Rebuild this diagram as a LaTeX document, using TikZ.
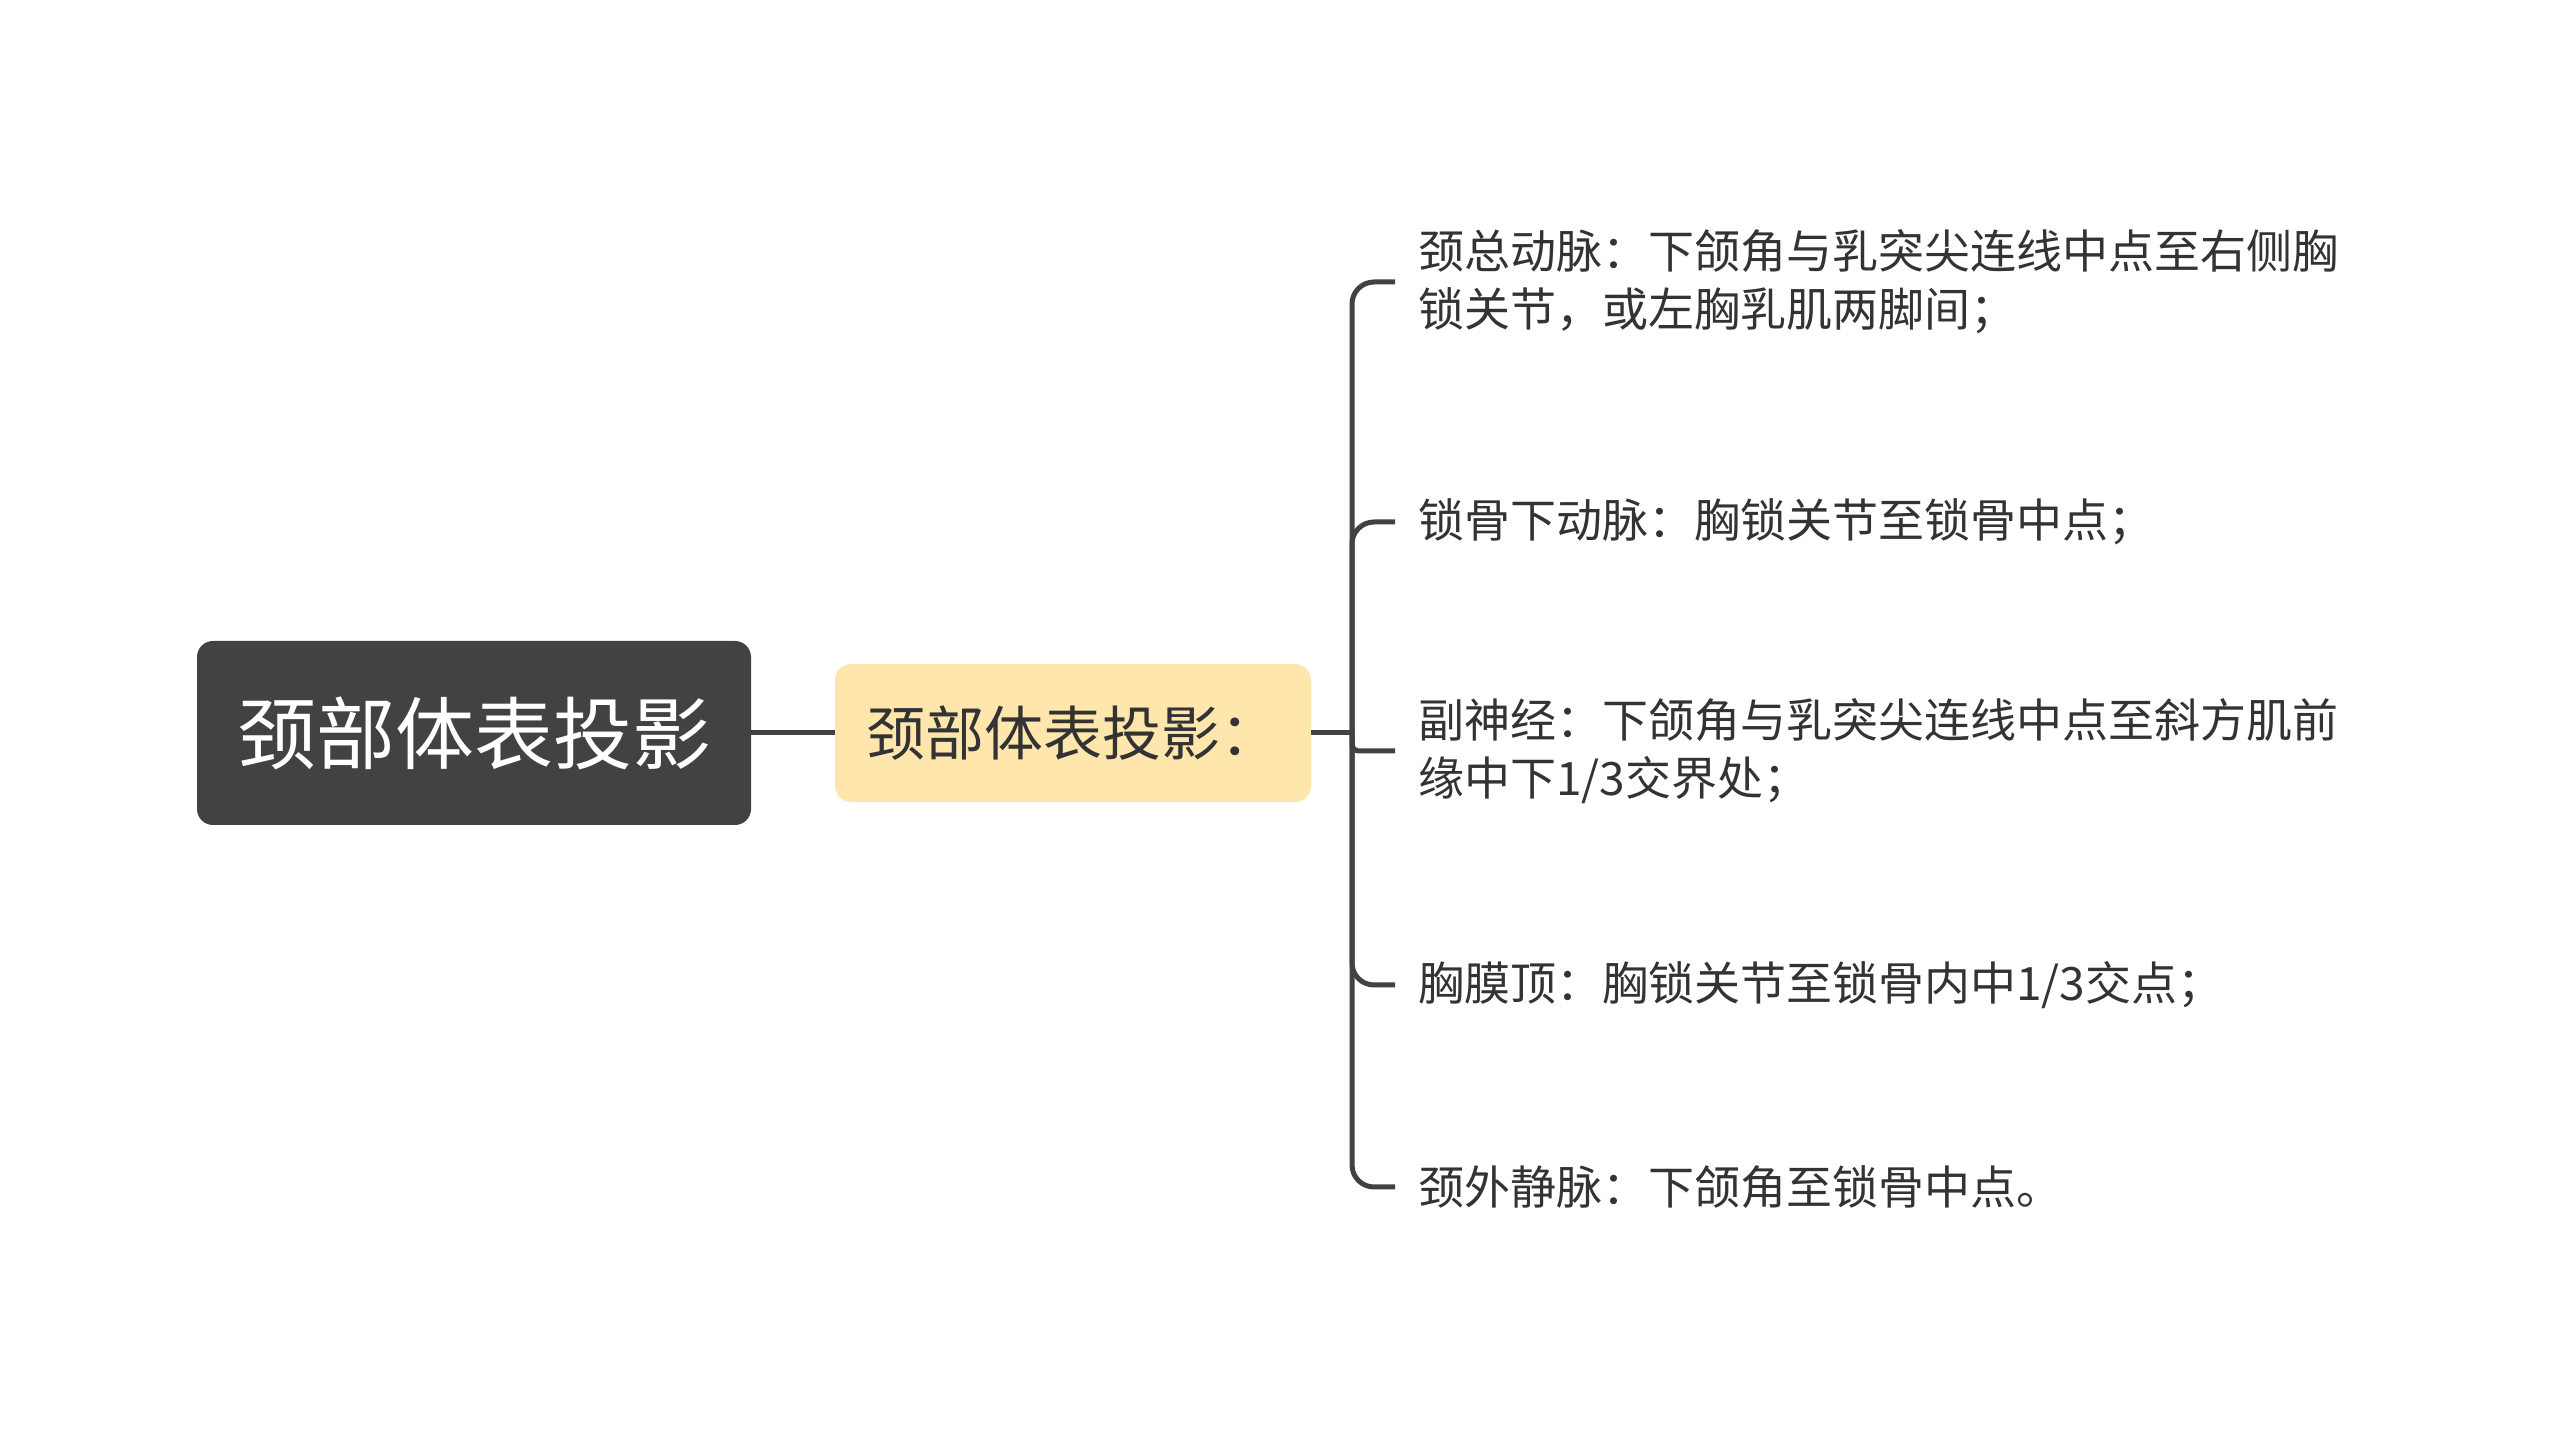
\documentclass[tikz,border=0pt]{standalone}
\usepackage{fontspec}
\setmainfont{Noto Sans CJK SC}
\definecolor{rootgray}{HTML}{424242}
\definecolor{linegray}{HTML}{424242}
\definecolor{midyellow}{HTML}{FEE6AD}
\definecolor{txtgray}{HTML}{333333}
\begin{document}
\begin{tikzpicture}[x=1pt,y=1pt,
  rootbox/.style={fill=rootgray,rounded corners=16pt,minimum width=554pt,minimum height=184pt,
    text=white,font=\fontsize{79}{90}\selectfont,inner sep=0pt},
  midbox/.style={fill=midyellow,rounded corners=16pt,minimum width=476pt,minimum height=138pt,
    text=txtgray,font=\fontsize{59}{70}\selectfont,inner sep=0pt},
  leaf/.style={anchor=west,align=left,text=txtgray,font=\fontsize{46}{58}\selectfont,inner sep=0pt},
  link/.style={draw=linegray,line width=5pt},
  branch/.style={link,rounded corners=22pt,shorten >=23pt}]

\useasboundingbox (0,0) rectangle (2560,1435);

\node[rootbox] (root) at (474,702) {颈部体表投影};
\node[midbox] (mid) at (1073,702) {颈部体表投影：};
\coordinate (jn) at (1352,702);

\node[leaf] (carotid) at (1418,1153) {颈总动脉：下颌角与乳突尖连线中点至右侧胸\\锁关节，或左胸乳肌两脚间；};
\node[leaf] (subclav) at (1418,913) {锁骨下动脉：胸锁关节至锁骨中点；};
\node[leaf] (accnerve) at (1418,684) {副神经：下颌角与乳突尖连线中点至斜方肌前\\缘中下1/3交界处；};
\node[leaf] (pleura) at (1418,450) {胸膜顶：胸锁关节至锁骨内中1/3交点；};
\node[leaf] (jugular) at (1418,248) {颈外静脉：下颌角至锁骨中点。};

\draw[link] (root) -- (mid);
\draw[link] (mid) -- (jn);

\draw[branch] (jn) |- (carotid.west);
\draw[branch] (jn) |- (subclav.west);
\draw[branch,rounded corners=7pt] (jn) |- (accnerve.west);
\draw[branch] (jn) |- (pleura.west);
\draw[branch] (jn) |- (jugular.west);

\end{tikzpicture}
\end{document}
